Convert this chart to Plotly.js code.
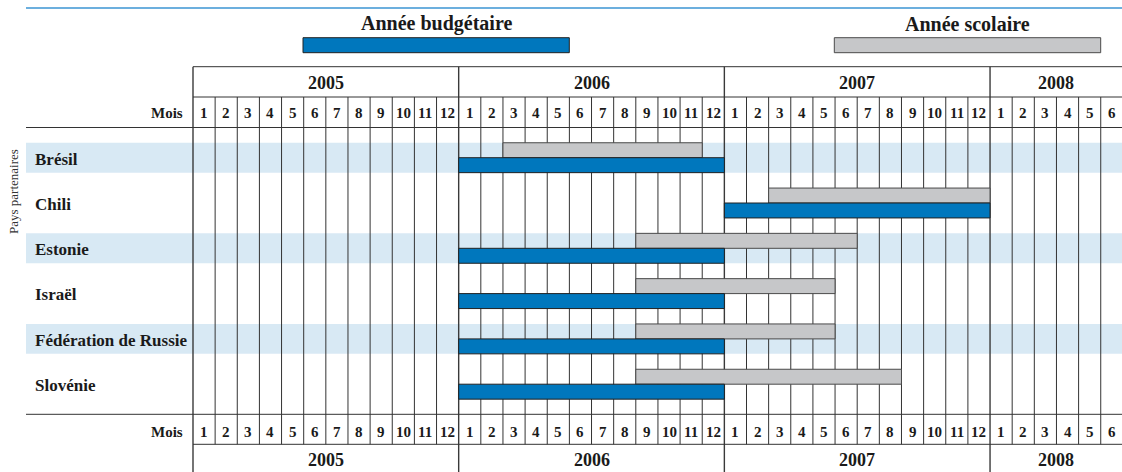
<!DOCTYPE html>
<html><head><meta charset="utf-8">
<script src="https://cdn.plot.ly/plotly-3.0.1.min.js"></script>
<style>html,body{margin:0;padding:0;background:#fff}</style>
</head><body><div id="chart" style="width:1122px;height:472px"></div>
<script>
// ---- data ----
const countries = ['Brésil','Chili','Estonie','Israël','Fédération de Russie','Slovénie'];
const budgetStart = ['2006-01','2007-01','2006-01','2006-01','2006-01','2006-01'];
const budgetEnd   = ['2006-12','2007-12','2006-12','2006-12','2006-12','2006-12'];
const schoolStart = ['2006-03','2007-03','2006-09','2006-09','2006-09','2006-09'];
const schoolEnd   = ['2006-11','2007-12','2007-06','2007-05','2007-05','2007-08'];
const years = ['2005','2006','2007','2008'];
const monthsPerYear = [12,12,12,6];
const monthLabel = 'Mois';
const legendLabels = ['Année budgétaire','Année scolaire'];
const axisTitle = 'Pays partenaires';

// ---- helpers ----
const W = 1122, H = 472;
const X0 = 193, MW = 22.14;     // grid origin & month width (px)
const R0 = 157.7, RP = 45.3;    // first row centre & row pitch (px)
const fx = p => p / W;
const fy = p => 1 - p / H;
const firstYear = +years[0];
const idx = s => { const [y, m] = s.split('-').map(Number); return (y - firstYear) * 12 + (m - 1); };

const FONT = '"Liberation Serif", "DejaVu Serif", serif';
const TXT = '#1a1a1a';
const BLUE = '#0077BD', GREY = '#C6C7C9', BAND = '#D8E9F4';

const rows = countries.map((_, i) => i);
const half = 0.33;

const traces = [
  {
    type: 'bar', orientation: 'h', name: legendLabels[1],
    y: rows, base: schoolStart.map(idx),
    x: schoolStart.map((s, i) => idx(schoolEnd[i]) + 1 - idx(s)),
    width: half, offset: -half,
    marker: { color: GREY, line: { color: '#4a4a4a', width: 1 } },
    hoverinfo: 'skip'
  },
  {
    type: 'bar', orientation: 'h', name: legendLabels[0],
    y: rows, base: budgetStart.map(idx),
    x: budgetStart.map((s, i) => idx(budgetEnd[i]) + 1 - idx(s)),
    width: half, offset: 0,
    marker: { color: BLUE, line: { color: '#222', width: 1 } },
    hoverinfo: 'skip'
  }
];

const shapes = [];
const annotations = [];

// row bands
rows.forEach(i => {
  if (i % 2 === 0) shapes.push({ type: 'rect', layer: 'below', xref: 'paper', yref: 'y',
    x0: fx(26), x1: 1, y0: i - half, y1: i + half, fillcolor: BAND, line: { width: 0 } });
});

// vertical lines
const yearStarts = []; let acc = 0;
monthsPerYear.forEach(n => { yearStarts.push(acc); acc += n; });
const totalMonths = acc;
for (let k = 0; k < totalMonths; k++) {
  const isYear = yearStarts.includes(k);
  shapes.push({ type: 'line', layer: 'below', xref: 'x', yref: 'paper',
    x0: k, x1: k, y0: fy(isYear ? 66.7 : 97), y1: fy(isYear ? 472 : 444.3),
    line: { color: isYear ? '#3a3a3a' : '#333', width: isYear ? 1.4 : 1 } });
}

// horizontal lines
const hline = (p, xs, col, w) => shapes.push({ type: 'line', xref: 'paper', yref: 'paper',
  x0: fx(xs), x1: 1, y0: fy(p), y1: fy(p), line: { color: col || '#333', width: w || 1 } });
hline(8, 26, '#3B95D3', 1.5);
hline(66.7, X0);
hline(97, X0);
hline(127.5, 26);
hline(414.3, 26);
hline(444.3, X0);

// legend
const legendBoxes = [[303, 569.3, BLUE, '#222'], [834.3, 1100.7, GREY, '#4a4a4a']];
legendBoxes.forEach((b, j) => {
  shapes.push({ type: 'rect', xref: 'paper', yref: 'paper', x0: fx(b[0]), x1: fx(b[1]),
    y0: fy(52.7), y1: fy(37.7), fillcolor: b[2], line: { color: b[3], width: 1 } });
  annotations.push({ text: '<b>' + legendLabels[j] + '</b>', xref: 'paper', yref: 'paper',
    x: fx((b[0] + b[1]) / 2), y: fy(24), showarrow: false, xanchor: 'center', yanchor: 'middle',
    font: { family: FONT, size: 20, color: TXT } });
});

// header/footer labels
const ann = (text, x, xref, yp, size, xanchor) => annotations.push({
  text: '<b>' + text + '</b>', x: x, xref: xref, y: fy(yp), yref: 'paper', showarrow: false,
  xanchor: xanchor || 'center', yanchor: 'middle', font: { family: FONT, size: size, color: TXT } });

years.forEach((y, j) => {
  const c = yearStarts[j] + monthsPerYear[j] / 2;
  ann(y, c, 'x', 83, 18);
  ann(y, c, 'x', 460, 18);
  for (let m = 1; m <= monthsPerYear[j]; m++) {
    ann(String(m), yearStarts[j] + m - 0.5, 'x', 113.5, 15);
    ann(String(m), yearStarts[j] + m - 0.5, 'x', 431.5, 15);
  }
});
ann(monthLabel, fx(185), 'paper', 113.5, 15, 'right');
ann(monthLabel, fx(185), 'paper', 431.5, 15, 'right');

// country names
countries.forEach((c, i) => annotations.push({ text: '<b>' + c + '</b>', xref: 'paper', x: fx(33),
  yref: 'y', y: i + 0.03, showarrow: false, xanchor: 'left', yanchor: 'middle',
  font: { family: FONT, size: 17, color: TXT } }));

annotations.push({ text: axisTitle, xref: 'paper', yref: 'paper', x: fx(13), y: fy(192),
  textangle: -90, showarrow: false, xanchor: 'center', yanchor: 'middle',
  font: { family: FONT, size: 13, color: '#333' } });

const layout = {
  width: W, height: H,
  margin: { l: 0, r: 0, t: 0, b: 0, pad: 0 },
  paper_bgcolor: '#fff', plot_bgcolor: '#fff',
  showlegend: false, barmode: 'overlay',
  xaxis: { type: 'linear', range: [-X0 / MW, (W - X0) / MW], showgrid: false, zeroline: false,
    showticklabels: false, ticks: '', showline: false, fixedrange: true },
  yaxis: { type: 'linear', range: [(H - R0) / RP, -R0 / RP], showgrid: false, zeroline: false,
    showticklabels: false, ticks: '', showline: false, fixedrange: true },
  shapes: shapes, annotations: annotations
};

Plotly.newPlot('chart', traces, layout, { displayModeBar: false, staticPlot: true });
</script>
</body></html>
